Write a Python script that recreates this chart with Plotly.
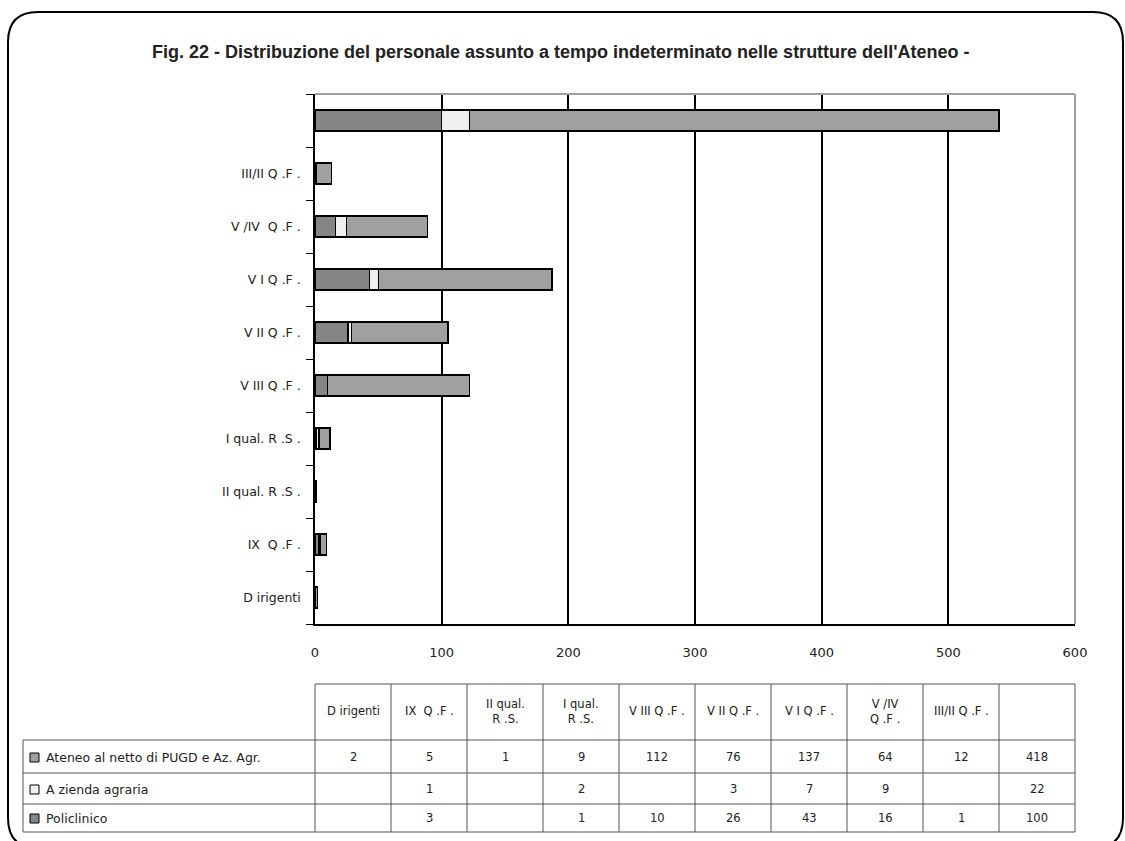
import plotly.graph_objects as go

# categorie (dal basso verso l'alto) e valori per serie
categorie = ['Dirigenti', 'IX Q.F.', 'II qual. R.S.', 'I qual. R.S.', 'VIII Q.F.',
             'VII Q.F.', 'VI Q.F.', 'V/IV Q.F.', 'III/II Q.F.', 'Totale']
etichette = ['D irigenti', 'IX  Q .F .', 'II qual. R .S .', 'I qual. R .S .', 'V III Q .F .',
             'V II Q .F .', 'V I Q .F .', 'V /IV  Q .F .', 'III/II Q .F .', '']
intestazioni = ['D irigenti', 'IX  Q .F .', 'II qual.<br>R .S.', 'I qual.<br>R .S.', 'V III Q .F .',
                'V II Q .F .', 'V I Q .F .', 'V /IV<br>Q .F .', 'III/II Q .F .', '']

policlinico = [None, 3, None, 1, 10, 26, 43, 16, 1, 100]
azienda = [None, 1, None, 2, None, 3, 7, 9, None, 22]
ateneo = [2, 5, 1, 9, 112, 76, 137, 64, 12, 418]

serie = ['Ateneo al netto di PUGD e Az. Agr.', 'A zienda agraria', 'Policlinico']
colori = ['#a0a0a0', '#efefef', '#858585']

W, H = 1125, 841
L, R, T, B = 315, 1075, 94, 624
FONT = 'DejaVu Sans, Verdana, sans-serif'


def px(x):
    return (x - L) / (R - L)


def py(y):
    return (B - y) / (B - T)


fig = go.Figure()
fig.add_trace(go.Bar(y=categorie, x=policlinico, orientation='h', name='Policlinico', width=0.4,
                     marker=dict(color=colori[2], line=dict(color='black', width=1.5))))
fig.add_trace(go.Bar(y=categorie, x=azienda, orientation='h', name='Azienda agraria', width=0.4,
                     marker=dict(color=colori[1], line=dict(color='black', width=1.5))))
fig.add_trace(go.Bar(y=categorie, x=ateneo, orientation='h', name=serie[0], width=0.4,
                     marker=dict(color=colori[0], line=dict(color='black', width=1.5))))

shapes = []
annotations = []

# cornice arrotondata
x0, x1, y0, y1 = px(8), px(1123), py(12), py(848)
rx, ry = 30 / (R - L), 30 / (B - T)
path = (f'M {x0},{y0 - ry} Q {x0},{y0} {x0 + rx},{y0} L {x1 - rx},{y0} Q {x1},{y0} {x1},{y0 - ry} '
        f'L {x1},{y1 + ry} Q {x1},{y1} {x1 - rx},{y1} L {x0 + rx},{y1} Q {x0},{y1} {x0},{y1 + ry} Z')
shapes.append(dict(type='path', xref='paper', yref='paper', path=path,
                   line=dict(color='black', width=2)))

# bordo superiore e destro dell'area del grafico
shapes.append(dict(type='line', xref='paper', yref='paper', x0=0, x1=1, y0=1, y1=1,
                   line=dict(color='#a0a0a0', width=2)))
shapes.append(dict(type='line', xref='paper', yref='paper', x0=1, x1=1, y0=0, y1=1,
                   line=dict(color='#a0a0a0', width=2)))

# tabella dati
righe_y = [684, 740, 773, 804, 832]
col_x = [L + 76 * j for j in range(11)]
lc = dict(color='#555555', width=1)
shapes.append(dict(type='line', xref='paper', yref='paper', x0=px(L), x1=px(R),
                   y0=py(684), y1=py(684), line=lc))
for yy in righe_y[1:]:
    shapes.append(dict(type='line', xref='paper', yref='paper', x0=px(23), x1=px(R),
                       y0=py(yy), y1=py(yy), line=lc))
shapes.append(dict(type='line', xref='paper', yref='paper', x0=px(23), x1=px(23),
                   y0=py(740), y1=py(832), line=lc))
for xx in col_x:
    shapes.append(dict(type='line', xref='paper', yref='paper', x0=px(xx), x1=px(xx),
                       y0=py(684), y1=py(832), line=lc))

font_tab = dict(family=FONT, size=11.5, color='#222')
for j, h in enumerate(intestazioni):
    annotations.append(dict(x=60 * j + 30, y=py(711), xref='x', yref='paper', text=h,
                            showarrow=False, font=font_tab, align='center',
                            xanchor='center', yanchor='middle'))

righe = [ateneo, azienda, policlinico]
centri = [757, 789, 818]
for i, nome in enumerate(serie):
    cy = centri[i]
    shapes.append(dict(type='rect', xref='paper', yref='paper', x0=px(30), x1=px(39),
                       y0=py(cy - 4), y1=py(cy + 5), fillcolor=colori[i],
                       line=dict(color='black', width=1)))
    annotations.append(dict(x=px(44), y=py(cy), xref='paper', yref='paper', text=nome,
                            showarrow=False, xanchor='left', yanchor='middle',
                            font=dict(family=FONT, size=12.5, color='#222')))
    for j, v in enumerate(righe[i]):
        if v is None:
            continue
        annotations.append(dict(x=60 * j + 30, y=py(cy), xref='x', yref='paper', text=str(v),
                                showarrow=False, font=font_tab, xanchor='center', yanchor='middle'))

# titolo
annotations.append(dict(x=px(560), y=py(52), xref='paper', yref='paper',
                        text="<b>Fig. 22 - Distribuzione del personale assunto a tempo indeterminato nelle strutture dell'Ateneo -</b>",
                        showarrow=False, xanchor='center', yanchor='middle',
                        font=dict(family='Liberation Sans, Arial, sans-serif', size=18, color='#222')))

fig.update_layout(
    width=W, height=H,
    margin=dict(l=L, r=W - R, t=T, b=H - B),
    barmode='stack', showlegend=False,
    plot_bgcolor='white', paper_bgcolor='white',
    shapes=shapes, annotations=annotations,
    font=dict(family=FONT, size=12, color='#222'),
    xaxis=dict(range=[0, 600], tickvals=[0, 100, 200, 300, 400, 500, 600],
               showgrid=True, gridcolor='black', gridwidth=1.5,
               showline=True, linecolor='black', linewidth=1.5,
               ticks='', ticklabelstandoff=16, zeroline=False,
               tickfont=dict(size=13)),
    yaxis=dict(type='category', categoryorder='array', categoryarray=categorie,
               tickvals=categorie, ticktext=etichette,
               showline=True, linecolor='black', linewidth=1.5,
               ticks='outside', tickson='boundaries', ticklen=7, tickcolor='black',
               ticklabelstandoff=10, showgrid=False, tickfont=dict(size=12.5)),
)

fig.write_html('out.html', config={'displayModeBar': False},
               post_script="document.body.style.margin='0';")
